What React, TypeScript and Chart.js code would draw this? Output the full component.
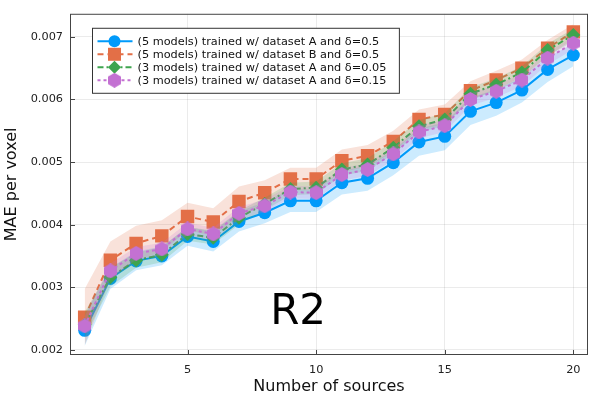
import React, { useEffect, useRef } from "react";
import { Chart, registerables } from "chart.js";

Chart.register(...registerables);

const FONT = "'DejaVu Sans', sans-serif";

const sources = [1, 2, 3, 4, 5, 6, 7, 8, 9, 10, 11, 12, 13, 14, 15, 16, 17, 18, 19, 20];
const xTicks = [5, 10, 15, 20];
const yTicks = [0.002, 0.003, 0.004, 0.005, 0.006, 0.007];

const seriesLabels = [
  "(5 models) trained w/ dataset A and δ=0.5",
  "(5 models) trained w/ dataset B and δ=0.5",
  "(3 models) trained w/ dataset A and δ=0.05",
  "(3 models) trained w/ dataset A and δ=0.15",
];

const blueMean = [0.00231, 0.00314, 0.00342, 0.0035, 0.00381, 0.00373, 0.00405, 0.00419, 0.00438, 0.00438, 0.00467, 0.00474, 0.00499, 0.00532, 0.00541, 0.00581, 0.00595, 0.00615, 0.00648, 0.00671];
const orangeMean = [0.00252, 0.00343, 0.0037, 0.00382, 0.00413, 0.00404, 0.00437, 0.00451, 0.00473, 0.00473, 0.00502, 0.0051, 0.00533, 0.00568, 0.00576, 0.00614, 0.00631, 0.0065, 0.00682, 0.00708];
const greenMean = [0.0024, 0.00316, 0.00343, 0.00352, 0.00385, 0.00379, 0.00411, 0.00433, 0.00457, 0.00459, 0.00488, 0.00496, 0.00523, 0.00557, 0.00568, 0.00609, 0.00624, 0.00643, 0.00679, 0.00703];
const purpleMean = [0.00238, 0.00326, 0.00354, 0.00361, 0.00393, 0.00385, 0.00418, 0.0043, 0.00452, 0.00451, 0.0048, 0.00488, 0.00513, 0.00548, 0.00558, 0.006, 0.00613, 0.00631, 0.00666, 0.0069];

const blueSpread = [0.00025, 0.00017, 0.00015, 0.00015, 0.00015, 0.00016, 0.00016, 0.00017, 0.00018, 0.00018, 0.00019, 0.0002, 0.0002, 0.00022, 0.00022, 0.00022, 0.00021, 0.0002, 0.0002, 0.00018];
const orangeSpread = [0.00045, 0.0003, 0.00028, 0.00025, 0.00022, 0.00022, 0.00024, 0.0002, 0.00018, 0.00018, 0.00018, 0.00017, 0.00017, 0.00016, 0.00016, 0.00015, 0.00015, 0.00014, 0.00013, 0.00012];
const greenSpread = [0.0002, 0.00015, 0.00012, 0.00012, 0.00011, 0.00011, 0.00011, 0.0001, 0.0001, 0.0001, 0.0001, 0.0001, 0.0001, 0.0001, 0.0001, 0.0001, 0.0001, 0.0001, 0.0001, 0.0001];
const purpleSpread = [0.00015, 0.00012, 0.0001, 0.0001, 0.0001, 0.0001, 0.0001, 0.0001, 0.0001, 0.0001, 0.0001, 0.0001, 0.0001, 0.0001, 0.0001, 0.0001, 0.0001, 0.0001, 0.0001, 0.0001];

const annotationText = "R2";
const annotationX = 9.3;
const annotationY = 0.00258;

const colors = ["#009AFA", "#E36F47", "#3EA44E", "#C371D2"];
const bandColors = ["rgba(0,154,250,0.2)", "rgba(227,111,71,0.2)", "rgba(62,164,78,0.2)", "rgba(195,113,210,0.2)"];
const dashes = [[], [6, 4], [6, 3, 2, 3], [3, 3]];

function makeHexagon(color: string, r: number): HTMLCanvasElement {
  const c = document.createElement("canvas");
  const w = Math.ceil(r * Math.sqrt(3));
  const h = Math.ceil(2 * r);
  c.width = w;
  c.height = h;
  const g = c.getContext("2d")!;
  g.fillStyle = color;
  g.beginPath();
  for (let i = 0; i < 6; i++) {
    const a = -Math.PI / 2 + (i * Math.PI) / 3;
    const px = w / 2 + r * Math.cos(a);
    const py = h / 2 + r * Math.sin(a);
    if (i === 0) g.moveTo(px, py);
    else g.lineTo(px, py);
  }
  g.closePath();
  g.fill();
  return c;
}

export default function App() {
  const ref = useRef<HTMLCanvasElement | null>(null);

  useEffect(() => {
    document.body.style.margin = "0";
    const canvas = ref.current;
    if (!canvas) return;

    const hex = makeHexagon(colors[3], 7.5);
    const means = [blueMean, orangeMean, greenMean, purpleMean];
    const spreads = [blueSpread, orangeSpread, greenSpread, purpleSpread];
    const pointStyles: any[] = ["circle", "rect", "rectRot", hex];
    const pointRadii = [6.5, 9.5, 7, 7.5];

    const datasets: any[] = [];
    means.forEach((m, k) => {
      const base = 10 * (4 - k);
      datasets.push({
        label: "band-upper-" + k,
        data: sources.map((x, i) => ({ x, y: m[i] + spreads[k][i] })),
        borderWidth: 0,
        pointRadius: 0,
        backgroundColor: bandColors[k],
        fill: "+1",
        order: base + 2,
      });
      datasets.push({
        label: "band-lower-" + k,
        data: sources.map((x, i) => ({ x, y: m[i] - spreads[k][i] })),
        borderWidth: 0,
        pointRadius: 0,
        fill: false,
        order: base + 1,
      });
      datasets.push({
        label: seriesLabels[k],
        data: sources.map((x, i) => ({ x, y: m[i] })),
        borderColor: colors[k],
        borderWidth: 2,
        borderDash: dashes[k],
        pointStyle: pointStyles[k],
        pointRadius: pointRadii[k],
        pointBackgroundColor: colors[k],
        pointBorderWidth: 0,
        fill: false,
        order: base,
      });
    });

    const decor = {
      id: "decor",
      afterDraw(chart: any) {
        const { ctx, chartArea: ca, scales } = chart;
        ctx.save();
        // frame
        ctx.strokeStyle = "#444";
        ctx.lineWidth = 1;
        ctx.setLineDash([]);
        ctx.strokeRect(ca.left + 0.5, ca.top + 0.5, ca.right - ca.left - 1, ca.bottom - ca.top - 1);
        // inward ticks
        ctx.beginPath();
        xTicks.forEach((v) => {
          const px = Math.round(scales.x.getPixelForValue(v)) + 0.5;
          ctx.moveTo(px, ca.bottom);
          ctx.lineTo(px, ca.bottom - 5);
        });
        yTicks.forEach((v) => {
          const py = Math.round(scales.y.getPixelForValue(v)) + 0.5;
          ctx.moveTo(ca.left, py);
          ctx.lineTo(ca.left + 5, py);
        });
        ctx.stroke();

        // annotation
        ctx.fillStyle = "#000";
        ctx.font = `42px ${FONT}`;
        ctx.textAlign = "center";
        ctx.textBaseline = "middle";
        ctx.fillText(annotationText, scales.x.getPixelForValue(annotationX), scales.y.getPixelForValue(annotationY));

        // legend
        ctx.font = `11.3px ${FONT}`;
        const textW = Math.max(...seriesLabels.map((l) => ctx.measureText(l).width));
        const bx = ca.left + 22.5;
        const by = ca.top + 14.5;
        const bw = 45 + textW + 13;
        const bh = 65;
        ctx.fillStyle = "#fff";
        ctx.fillRect(bx, by, bw, bh);
        ctx.strokeStyle = "#333";
        ctx.strokeRect(bx, by, bw, bh);
        seriesLabels.forEach((label, k) => {
          const cy = by + 13 + k * 13;
          ctx.strokeStyle = colors[k];
          ctx.lineWidth = 2;
          ctx.setLineDash(dashes[k]);
          ctx.beginPath();
          ctx.moveTo(bx + 5, cy);
          ctx.lineTo(bx + 40, cy);
          ctx.stroke();
          ctx.setLineDash([]);
          const mx = bx + 22;
          ctx.fillStyle = colors[k];
          ctx.beginPath();
          if (k === 0) {
            ctx.arc(mx, cy, 6, 0, Math.PI * 2);
            ctx.fill();
          } else if (k === 1) {
            ctx.fillRect(mx - 6.5, cy - 6.5, 13, 13);
          } else if (k === 2) {
            ctx.moveTo(mx, cy - 6.5);
            ctx.lineTo(mx + 6.5, cy);
            ctx.lineTo(mx, cy + 6.5);
            ctx.lineTo(mx - 6.5, cy);
            ctx.closePath();
            ctx.fill();
          } else {
            ctx.drawImage(hex, mx - hex.width / 2, cy - hex.height / 2);
          }
          ctx.fillStyle = "#111";
          ctx.textAlign = "left";
          ctx.textBaseline = "middle";
          ctx.fillText(label, bx + 45, cy + 0.5);
        });
        ctx.restore();
      },
    };

    const chart = new Chart(canvas, {
      type: "line",
      data: { datasets },
      options: {
        animation: false,
        responsive: true,
        maintainAspectRatio: false,
        layout: { padding: { left: 0, top: 12, right: 12, bottom: 0 } },
        plugins: {
          legend: { display: false },
          tooltip: { enabled: false },
        },
        scales: {
          x: {
            type: "linear",
            min: 0.43,
            max: 20.57,
            afterBuildTicks: (s: any) => {
              s.ticks = xTicks.map((v) => ({ value: v }));
            },
            afterFit: (s: any) => {
              s.height = 45;
            },
            grid: { color: "rgba(0,0,0,0.08)", drawTicks: false },
            border: { display: false },
            ticks: {
              padding: 8,
              color: "#222",
              font: { family: FONT, size: 11.3 },
              callback: (v: any) => String(v),
            },
            title: {
              display: true,
              text: "Number of sources",
              color: "#111",
              font: { family: FONT, size: 16 },
              padding: { top: 0, bottom: 4 },
            },
          },
          y: {
            type: "linear",
            min: 0.001916,
            max: 0.007369,
            afterBuildTicks: (s: any) => {
              s.ticks = yTicks.map((v) => ({ value: v }));
            },
            afterFit: (s: any) => {
              s.width = 70;
            },
            grid: { color: "rgba(0,0,0,0.08)", drawTicks: false },
            border: { display: false },
            ticks: {
              padding: 7,
              color: "#222",
              font: { family: FONT, size: 11.3 },
              callback: (v: any) => Number(v).toFixed(3),
            },
            title: {
              display: true,
              text: "MAE per voxel",
              color: "#111",
              font: { family: FONT, size: 16 },
              padding: { top: 2, bottom: 0 },
            },
          },
        },
      },
      plugins: [decor],
    });

    return () => chart.destroy();
  }, []);

  return (
    <div style={{ width: 600, height: 400, position: "relative" }}>
      <canvas ref={ref} />
    </div>
  );
}
